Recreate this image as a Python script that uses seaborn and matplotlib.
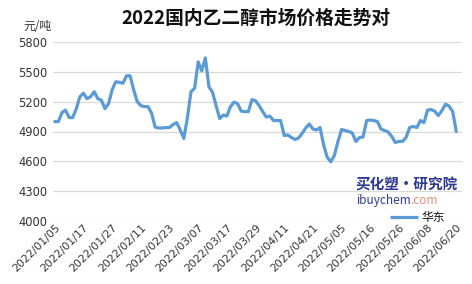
import numpy as np
import pandas as pd
import matplotlib
matplotlib.use("Agg")
import matplotlib.pyplot as plt
import seaborn as sns

title = "2022国内乙二醇市场价格走势对"
unit_label = "元/吨"
series_name = "华东"
tick_labels = ["2022/01/05", "2022/01/17", "2022/01/27", "2022/02/11", "2022/02/23",
               "2022/03/07", "2022/03/17", "2022/03/29", "2022/04/11", "2022/04/21",
               "2022/05/05", "2022/05/16", "2022/05/26", "2022/06/08", "2022/06/20"]
y_ticks = [4000, 4300, 4600, 4900, 5200, 5500, 5800]
prices = [5000, 5000, 5090, 5115, 5040, 5040, 5130, 5250, 5285, 5230,
          5250, 5300, 5230, 5215, 5130, 5180, 5320, 5400, 5395, 5385,
          5460, 5460, 5320, 5200, 5160, 5150, 5150, 5085, 4945, 4935,
          4935, 4940, 4940, 4970, 4990, 4915, 4830, 5040, 5300, 5335,
          5600, 5510, 5640, 5350, 5295, 5160, 5030, 5065, 5055, 5150,
          5195, 5180, 5105, 5100, 5100, 5220, 5210, 5160, 5100, 5045,
          5055, 5010, 5010, 5010, 4860, 4865, 4840, 4820, 4835, 4880,
          4935, 4975, 4925, 4915, 4940, 4765, 4640, 4595, 4660, 4800,
          4920, 4910, 4900, 4885, 4800, 4840, 4845, 5010, 5015, 5010,
          5000, 4925, 4910, 4895, 4850, 4790, 4800, 4800, 4840, 4940,
          4950, 4940, 5010, 4990, 5115, 5120, 5105, 5060, 5110, 5175,
          5155, 5100, 4900]

df = pd.DataFrame({"idx": np.arange(len(prices)), "price": prices})
tick_step = (len(prices) - 1) // (len(tick_labels) - 1)

sns.set_theme(style="white")
plt.rcParams["font.family"] = ["DejaVu Sans", "Noto Sans CJK SC"]
cjk = ["Noto Sans CJK SC", "DejaVu Sans"]

fig = plt.figure(figsize=(4.72, 2.84), dpi=100)
ax = fig.add_axes([53 / 472, 1 - 221 / 284, 409 / 472, 179 / 284])

sns.lineplot(data=df, x="idx", y="price", ax=ax, color="#5B9BD5", linewidth=2.3, legend=False)

ax.set_ylim(4000, 5800)
ax.set_xlim(-0.5, len(prices) + 0.6)
ax.set_yticks(y_ticks)
ax.set_yticklabels([str(v) for v in y_ticks], fontsize=8.3, color="#333333")
ax.set_xticks(np.arange(0, len(prices), tick_step))
ax.set_xticklabels(tick_labels, rotation=45, ha="right", va="top", rotation_mode="anchor",
                   fontsize=7.8, color="#333333")
ax.tick_params(axis="x", pad=1, length=0)
ax.tick_params(axis="y", pad=4, length=0)
ax.set_xlabel("")
ax.set_ylabel("")
ax.grid(axis="y", color="#D9D9D9", linewidth=0.9)
ax.grid(axis="x", visible=False)
for s in ax.spines.values():
    s.set_visible(False)

fig.text(256 / 472, 1 - 18 / 284, title, ha="center", va="center", fontsize=13.5,
         fontweight="bold", family=cjk, color="#111111")
fig.text(37 / 472, 1 - 26 / 284, unit_label, ha="center", va="center", fontsize=8.5,
         family=cjk, color="#333333")

# watermark
ax.text(0.865, 0.205, "买化塑·研究院", transform=ax.transAxes, ha="center", va="center",
        fontsize=10.5, fontweight="bold", style="italic", family=cjk, color="#2B3990")
ax.text(0.742, 0.112, "ibuychem", transform=ax.transAxes, ha="left", va="center",
        fontsize=8.5, family=cjk, color="#2B3990")
ax.text(0.874, 0.112, ".com", transform=ax.transAxes, ha="left", va="center",
        fontsize=8.5, family=cjk, color="#F08A7A")

# legend
ax.plot([0.824, 0.892], [0.022, 0.022], transform=ax.transAxes, color="#5B9BD5",
        linewidth=2.3, solid_capstyle="butt")
ax.text(0.902, 0.022, series_name, transform=ax.transAxes, ha="left", va="center",
        fontsize=8.5, family=cjk, color="#111111")

fig.savefig("out.png", dpi=100)
